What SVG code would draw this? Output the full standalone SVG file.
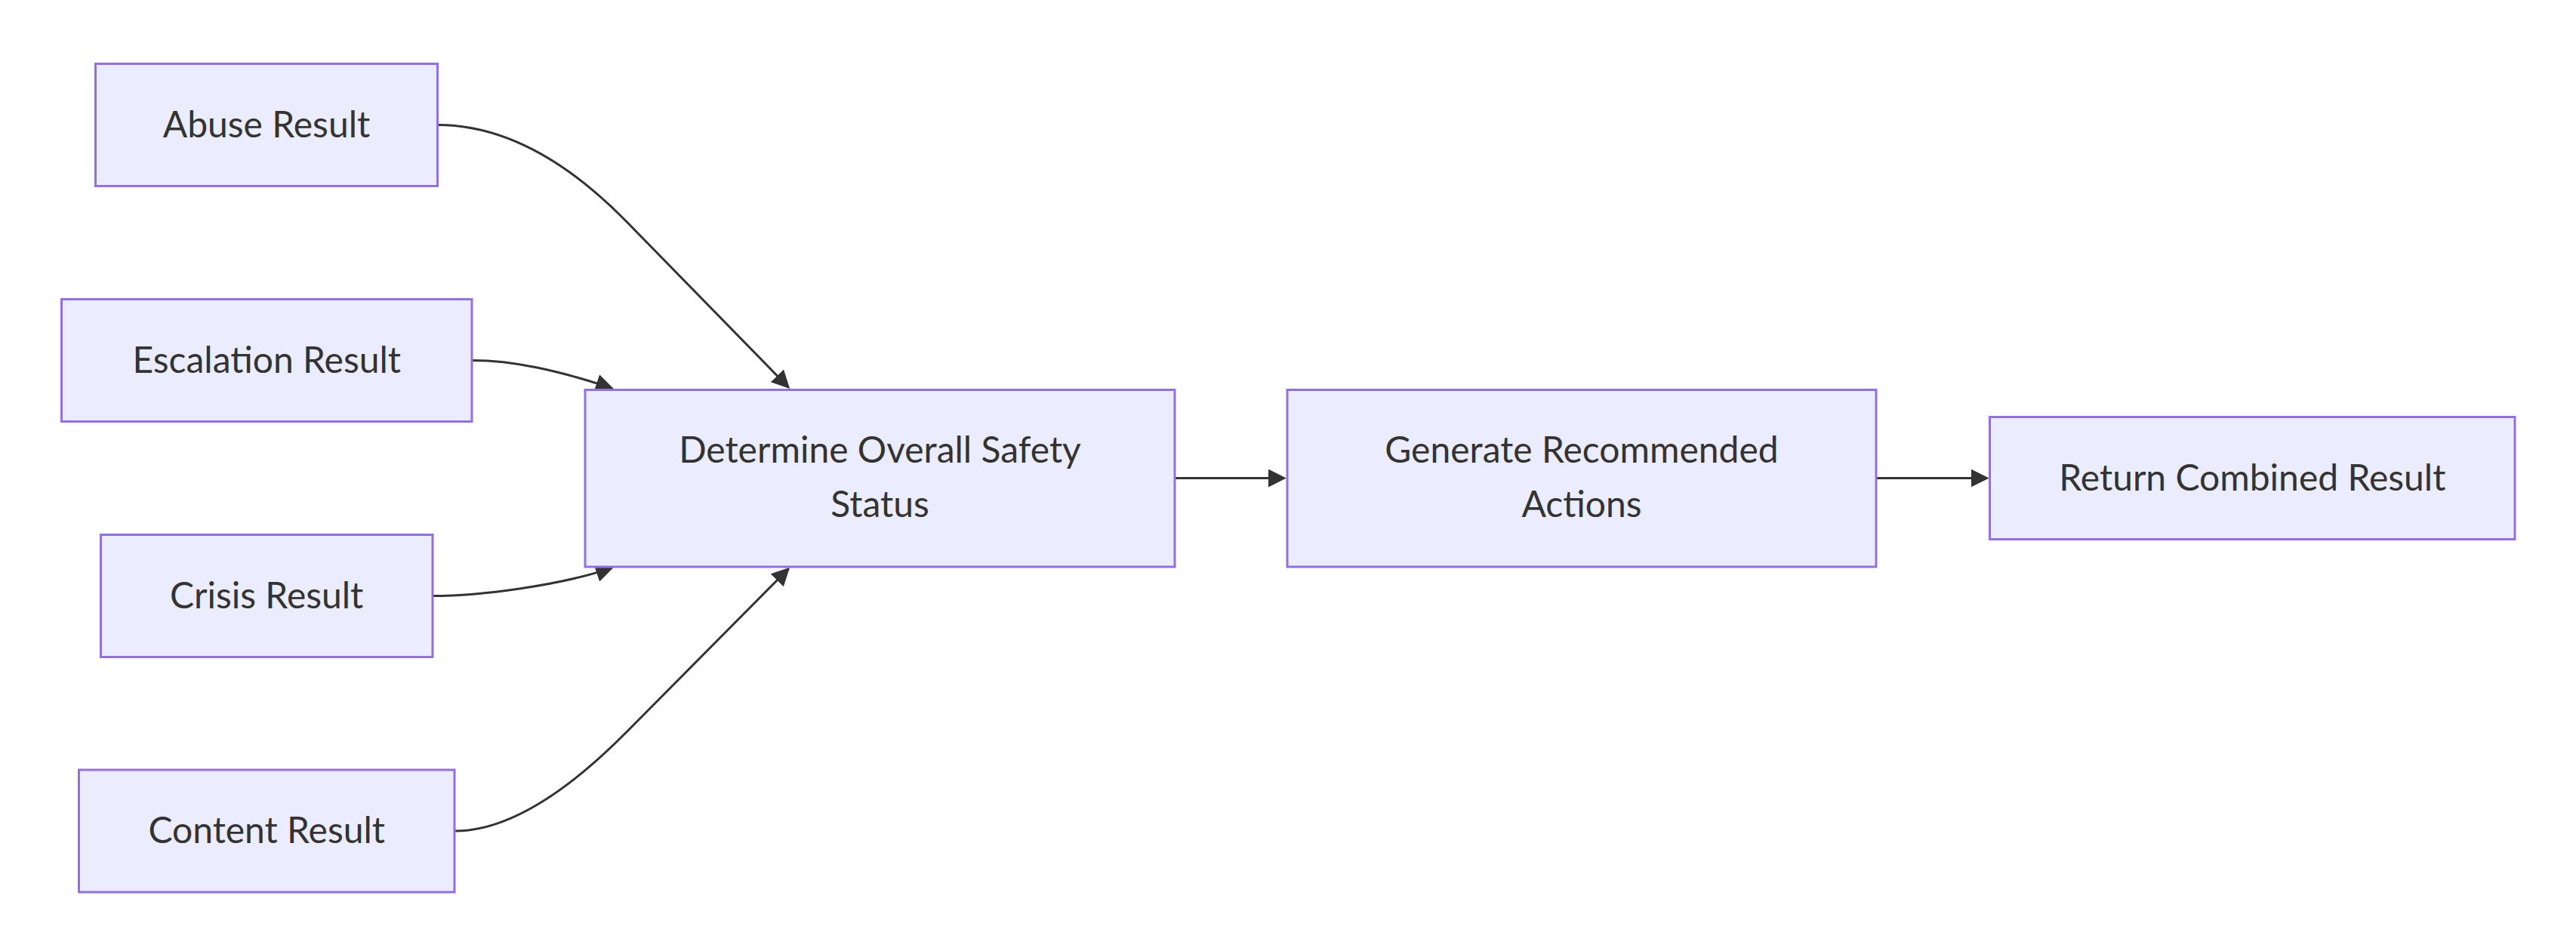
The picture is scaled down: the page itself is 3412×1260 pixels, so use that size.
<svg xmlns="http://www.w3.org/2000/svg" width="3412" height="1260" viewBox="0 0 3412 1260">
<style>
.node rect{fill:#ECECFF;stroke:#9370DB;stroke-width:3}
.node text{font-family:Lato,"Open Sans","Liberation Sans",sans-serif;font-size:48px;fill:#333333;text-anchor:middle}
.edge{fill:none;stroke:#333333;stroke-width:3}
</style>
<defs>
<marker id="arrow" viewBox="0 0 10 10" refX="8.667" refY="5" markerWidth="8" markerHeight="8" markerUnits="strokeWidth" orient="auto">
<path d="M0,0 L10,5 L0,10 z" fill="#333333"/>
</marker>
</defs>
<rect width="3412" height="1260" fill="#ffffff"/>
<g id="connectors">
<path class="edge" marker-end="url(#arrow)" d="M579.5,165.5 Q704.6,165.5 830,293.8 L1043.9,512.7"/>
<path class="edge" marker-end="url(#arrow)" d="M625,477.5 C680,477.5 738.8,490.5 810,514.2"/>
<path class="edge" marker-end="url(#arrow)" d="M573,789.5 C635,789.5 738.8,776.3 810,752.6"/>
<path class="edge" marker-end="url(#arrow)" d="M602,1101 Q699.8,1101 830,969.8 L1043.9,754.1"/>
<path class="edge" marker-end="url(#arrow)" d="M1556,633.5 L1700.6,633.5"/>
<path class="edge" marker-end="url(#arrow)" d="M2485,633.5 L2631.5,633.5"/>
</g>
<g id="abuse" class="node"><rect x="126.5" y="84.5" width="453" height="162"/><text x="353" y="181.5">Abuse Result</text></g>
<g id="escalation" class="node"><rect x="81.5" y="396.5" width="543.5" height="162"/><text x="353.2" y="493.5">Escalation Result</text></g>
<g id="crisis" class="node"><rect x="133.5" y="708.5" width="439.5" height="162"/><text x="353.2" y="805.5">Crisis Result</text></g>
<g id="content" class="node"><rect x="104.5" y="1020" width="497.5" height="162"/><text x="353.2" y="1117">Content Result</text></g>
<g id="determine" class="node"><rect x="775" y="516.5" width="781" height="234.5"/><text x="1165.5" y="613">Determine Overall Safety</text><text x="1165.5" y="685">Status</text></g>
<g id="generate" class="node"><rect x="1705" y="516.5" width="780" height="234.5"/><text x="2095" y="613">Generate Recommended</text><text x="2095" y="685">Actions</text></g>
<g id="return" class="node"><rect x="2635.5" y="552.5" width="695.5" height="162"/><text x="2983.3" y="649.5">Return Combined Result</text></g>
</svg>
